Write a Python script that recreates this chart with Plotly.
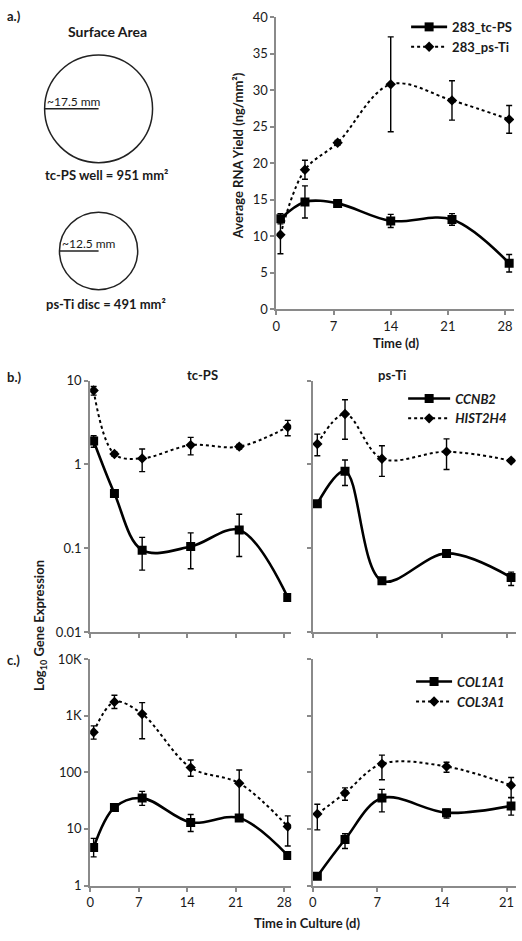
import plotly.graph_objects as go

W, H = 522, 941
FONT = "Lato"
AX = "#8a8a8a"
TXT = "#1a1a1a"


def px(x):
    return x / W


def py(y):
    return 1 - y / H


# ---------------- data ----------------
# Panel a: Average RNA yield (ng/mm^2)
a_days = [0.5, 3.5, 7.5, 14, 21.5, 28.5]
a_tcps = [12.4, 14.7, 14.5, 12.1, 12.3, 6.3]
a_tcps_err = [0.7, 2.2, 0.3, 0.9, 0.8, 1.2]
a_psti = [10.2, 19.1, 22.8, 30.8, 28.6, 26.0]
a_psti_err = [2.6, 1.3, 0.3, 6.5, 2.7, 1.9]

# Time points for panels b, c
days_tc = [0.5, 3.5, 7.5, 14.5, 21.5, 28.5]
days_ti = [0.5, 3.5, 7.5, 14.5, 21.5]

# Panel b: CCNB2 / HIST2H4
ccnb2_tc = [1.9, 0.45, 0.095, 0.105, 0.165, 0.026]
ccnb2_tc_up = [0.3, 0.03, 0.04, 0.048, 0.09, 0.002]
ccnb2_tc_dn = [0.3, 0.03, 0.04, 0.048, 0.085, 0.002]
hist_tc = [7.6, 1.33, 1.18, 1.7, 1.63, 2.8]
hist_tc_up = [0.9, 0.08, 0.35, 0.4, 0.1, 0.55]
hist_tc_dn = [0.9, 0.08, 0.36, 0.4, 0.1, 0.6]
ccnb2_ti = [0.34, 0.83, 0.041, 0.087, 0.045]
ccnb2_ti_up = [0.02, 0.3, 0.003, 0.005, 0.007]
ccnb2_ti_dn = [0.02, 0.27, 0.003, 0.005, 0.009]
hist_ti = [1.75, 4.0, 1.17, 1.42, 1.11]
hist_ti_up = [0.55, 1.9, 0.5, 0.6, 0.05]
hist_ti_dn = [0.48, 2.0, 0.45, 0.55, 0.05]

# Panel c: COL1A1 / COL3A1
col1_tc = [4.7, 23.9, 35, 13, 15.6, 3.4]
col1_tc_up = [2.1, 2, 11, 5, 2, 0.3]
col1_tc_dn = [1.5, 2, 9, 4, 2, 0.3]
col3_tc = [510, 1750, 1070, 121, 64, 11]
col3_tc_up = [150, 550, 630, 44, 46, 6]
col3_tc_dn = [125, 415, 680, 36, 48, 6]
col1_ti = [1.46, 6.5, 35, 19.3, 25.5]
col1_ti_up = [0.1, 1.7, 15, 3, 10]
col1_ti_dn = [0.1, 2.0, 15, 3.7, 8]
col3_ti = [18.3, 43, 141, 126, 59]
col3_ti_up = [9, 10, 60, 24, 22]
col3_ti_dn = [8.7, 11, 67, 26, 23]

# tick labels
lin_ticks = [0, 7, 14, 21, 28]
b_tickvals = [0.01, 0.1, 1, 10]
b_ticktext = ["0.01", "0.1", "1", "10"]
c_tickvals = [1, 10, 100, 1000, 10000]
c_ticktext = ["1", "10", "100", "1K", "10K"]

fig = go.Figure()


def err(up, dn=None):
    d = dict(type="data", array=up, color="black", thickness=1.4, width=3, visible=True)
    if dn is not None:
        d["symmetric"] = False
        d["arrayminus"] = dn
    return d


def add(x, y, e, solid, xa, ya, name, legend=None):
    fig.add_trace(go.Scatter(
        x=x, y=y, xaxis=xa, yaxis=ya, mode="lines+markers",
        line=dict(color="black", width=2.6 if solid else 2.0,
                  dash="solid" if solid else "dot", shape="spline", smoothing=1.0),
        marker=dict(symbol="square" if solid else "diamond", size=9 if solid else 8,
                    color="black"),
        error_y=e,
        name=name,
        showlegend=legend is not None,
        legend=legend if legend else "legend",
    ))


# Panel a
add(a_days, a_tcps, err(a_tcps_err), True, "x", "y", "<b>283_tc-PS</b>", "legend")
add(a_days, a_psti, err(a_psti_err), False, "x", "y", "<b>283_ps-Ti</b>", "legend")
# Panel b
add(days_tc, ccnb2_tc, err(ccnb2_tc_up, ccnb2_tc_dn), True, "x2", "y2", "CCNB2 tc-PS")
add(days_tc, hist_tc, err(hist_tc_up, hist_tc_dn), False, "x2", "y2", "HIST2H4 tc-PS")
add(days_ti, ccnb2_ti, err(ccnb2_ti_up, ccnb2_ti_dn), True, "x3", "y3", "<b><i>CCNB2</i></b>", "legend2")
add(days_ti, hist_ti, err(hist_ti_up, hist_ti_dn), False, "x3", "y3", "<b><i>HIST2H4</i></b>", "legend2")
# Panel c
add(days_tc, col1_tc, err(col1_tc_up, col1_tc_dn), True, "x4", "y4", "COL1A1 tc-PS")
add(days_tc, col3_tc, err(col3_tc_up, col3_tc_dn), False, "x4", "y4", "COL3A1 tc-PS")
add(days_ti, col1_ti, err(col1_ti_up, col1_ti_dn), True, "x5", "y5", "<b><i>COL1A1</i></b>", "legend3")
add(days_ti, col3_ti, err(col3_ti_up, col3_ti_dn), False, "x5", "y5", "<b><i>COL3A1</i></b>", "legend3")

tickfont = dict(family=FONT, size=13, color=TXT)
base = dict(showline=True, linecolor=AX, linewidth=2, showgrid=False, zeroline=False,
            ticks="outside", ticklen=4, tickcolor=AX, tickwidth=1.5, tickfont=tickfont)

xl = [px(87), px(290)]
xr = [px(311.7), px(516.7)]
yb = [py(635), py(379)]
yc = [py(892.7), py(662.3)]

legfont = dict(family=FONT, size=13, color=TXT)

fig.update_layout(
    width=W, height=H, margin=dict(l=0, r=0, t=0, b=0),
    paper_bgcolor="white", plot_bgcolor="white",
    font=dict(family=FONT, color=TXT),
    xaxis=dict(base, domain=[px(275), px(515)], range=[0, 29.1], tickvals=lin_ticks,
               anchor="y"),
    yaxis=dict(base, domain=[py(306.5), py(9.3)], range=[0, 40], dtick=5, anchor="x"),
    xaxis2=dict(base, domain=xl, range=[0, 29], tickvals=lin_ticks, showticklabels=False,
                anchor="y2"),
    yaxis2=dict(base, domain=yb, type="log", range=[-2, 1], tickvals=b_tickvals,
                ticktext=b_ticktext, anchor="x2"),
    xaxis3=dict(base, domain=xr, range=[0, 22], tickvals=lin_ticks[:4], showticklabels=False,
                anchor="y3"),
    yaxis3=dict(base, domain=yb, type="log", range=[-2, 1], tickvals=b_tickvals,
                showticklabels=False, anchor="x3"),
    xaxis4=dict(base, domain=xl, range=[0, 29], tickvals=lin_ticks, anchor="y4"),
    yaxis4=dict(base, domain=yc, type="log", range=[0, 4], tickvals=c_tickvals,
                ticktext=c_ticktext, anchor="x4"),
    xaxis5=dict(base, domain=xr, range=[0, 22], tickvals=lin_ticks[:4], anchor="y5"),
    yaxis5=dict(base, domain=yc, type="log", range=[0, 4], tickvals=c_tickvals,
                showticklabels=False, anchor="x5"),
    legend=dict(x=px(406), y=py(4), xanchor="left", yanchor="top", itemwidth=36,
                font=legfont, bgcolor="rgba(0,0,0,0)", tracegroupgap=0),
    legend2=dict(x=px(403), y=py(382), xanchor="left", yanchor="top", itemwidth=42,
                 font=legfont, bgcolor="rgba(0,0,0,0)"),
    legend3=dict(x=px(411), y=py(670), xanchor="left", yanchor="top", itemwidth=36,
                 font=legfont, bgcolor="rgba(0,0,0,0)"),
    showlegend=True,
)


def ann(text, x, y, size=13, angle=0, xanchor="center"):
    fig.add_annotation(text=text, x=px(x), y=py(y), xref="paper", yref="paper",
                       showarrow=False, textangle=angle, xanchor=xanchor, yanchor="middle",
                       font=dict(family=FONT, size=size, color=TXT))


# Panel labels and titles
ann("<b>a.)</b>", 1, 8, 13, xanchor="left")
ann("<b>b.)</b>", 1, 375, 13, xanchor="left")
ann("<b>c.)</b>", 1, 663, 13, xanchor="left")
ann("<b>Surface Area</b>", 105, 24, 14)
ann("<b>tc-PS well = 951 mm²</b>", 103, 170, 13)
ann("<b>ps-Ti disc = 491 mm²</b>", 103, 301, 13)
ann("~17.5 mm", 41, 95, 12, xanchor="left")
ann("~12.5 mm", 57, 239.5, 12, xanchor="left")
ann("<b>Average RNA Yield (ng/mm²)</b>", 237, 150, 13, angle=-90)
ann("<b>Time (d)</b>", 396, 341, 13)
ann("<b>tc-PS</b>", 200, 373, 13)
ann("<b>ps-Ti</b>", 392, 373, 13)
ann("<b>Log<sub>10</sub> Gene Expression</b>", 37, 628, 13, angle=-90)
ann("<b>Time in Culture (d)</b>", 306, 931, 13)

# Surface area diagrams
circ = dict(type="circle", xref="paper", yref="paper", line=dict(color="#222", width=1.5))
fig.add_shape(circ, x0=px(41), x1=px(150), y0=py(157.3), y1=py(47.7))
fig.add_shape(circ, x0=px(56), x1=px(135), y0=py(286.5), y1=py(207.7))
seg = dict(type="line", xref="paper", yref="paper", line=dict(color="#222", width=1.5))
fig.add_shape(seg, x0=px(41), x1=px(95.5), y0=py(102.6), y1=py(102.6))
fig.add_shape(seg, x0=px(56), x1=px(95.5), y0=py(247.2), y1=py(247.2))

fig.write_html("out.html", config={"displayModeBar": False},
               post_script="document.body.style.margin='0';document.body.style.overflow='hidden';")
